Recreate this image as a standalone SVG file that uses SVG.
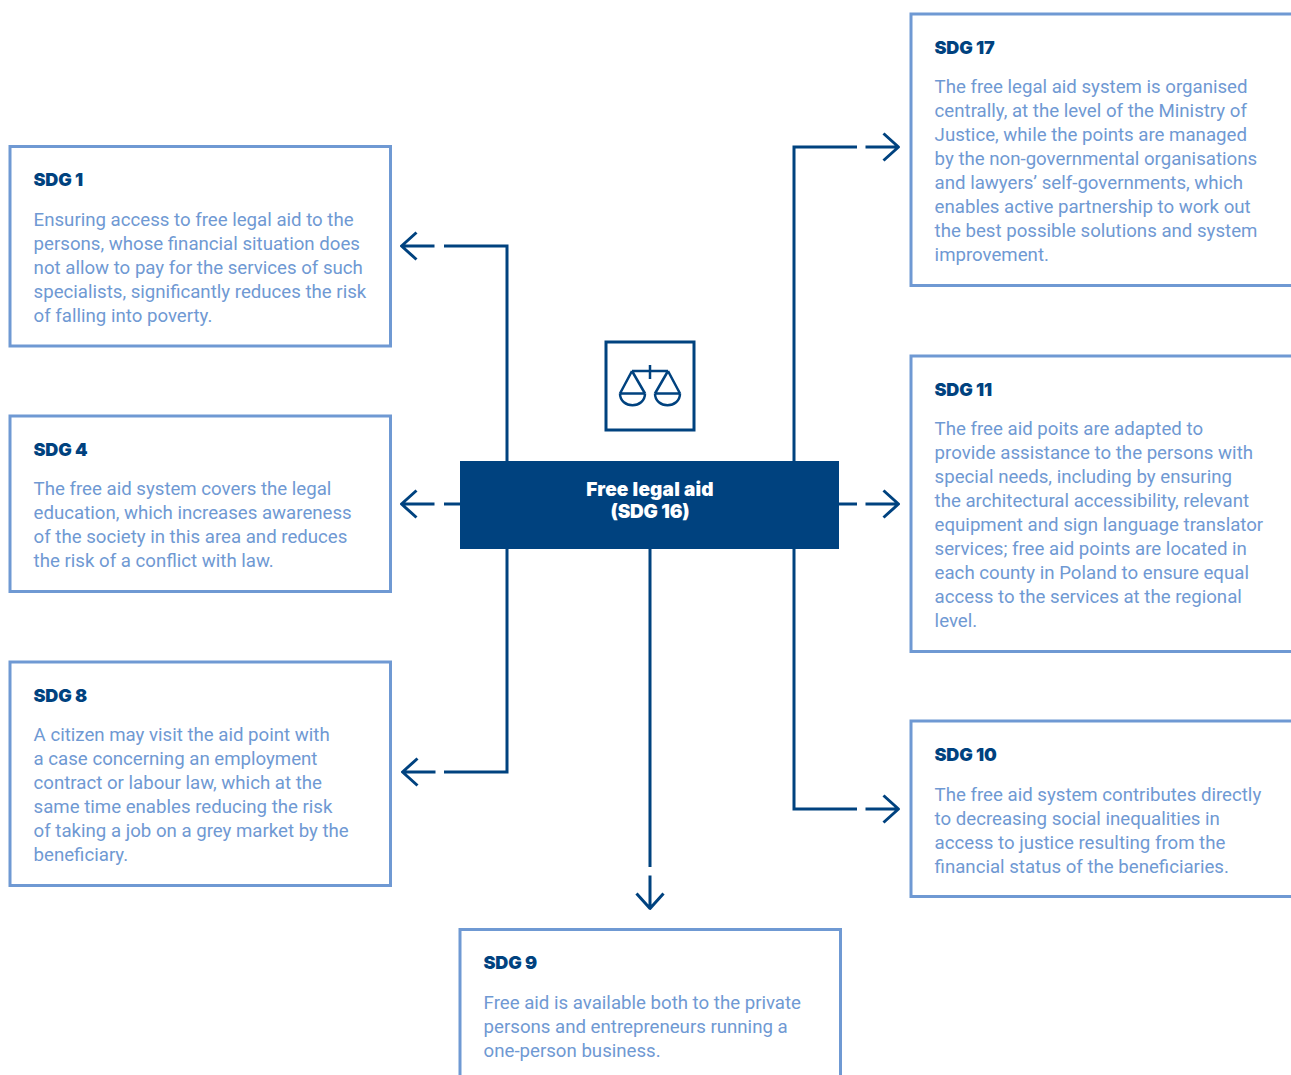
<svg xmlns="http://www.w3.org/2000/svg" width="1291" height="1075" viewBox="0 0 1291 1075">
<style>
.box{fill:#fff;stroke:#6f99d3;stroke-width:3}
.t{font-family:"Inter","Open Sans",sans-serif;font-weight:900;font-size:18px;fill:#00427f;letter-spacing:-.15px}
.b{font-family:"Roboto",sans-serif;font-size:18.65px;fill:#6f99d3}
.c{fill:none;stroke:#00427f;stroke-width:3}
.w{font-family:"Inter","Open Sans",sans-serif;font-weight:900;font-size:19px;fill:#fff;text-anchor:middle;letter-spacing:.2px}
</style>
<defs>
<path id="ah" class="c" d="M-33 0H0M-15 -13.500L0 0L-15 13.500" stroke-linejoin="round"/>
</defs>
<g id="connectors">
<path class="c" d="M507 462V246H444"/>
<use href="#ah" transform="translate(401.500 246) rotate(180)"/>
<path class="c" d="M460 504H444"/>
<use href="#ah" transform="translate(401.500 504) rotate(180)"/>
<path class="c" d="M507 548V772H444"/>
<use href="#ah" transform="translate(402.500 772) rotate(180)"/>
<path class="c" d="M794 462V147H857"/>
<use href="#ah" transform="translate(898.500 147)"/>
<path class="c" d="M838 504H857"/>
<use href="#ah" transform="translate(898.500 504)"/>
<path class="c" d="M794 548V809H857"/>
<use href="#ah" transform="translate(898.500 809)"/>
<path class="c" d="M650 548V867"/>
<use href="#ah" transform="translate(650 908.500) rotate(90)"/>
</g>
<g id="sdg1"><rect class="box" x="10" y="146.500" width="380.500" height="199.500"/>
<text class="t" x="33.500" y="186">SDG 1</text>
<text class="b"><tspan x="33.600" y="226">Ensuring access to free legal aid to the</tspan><tspan x="33.600" y="250">persons, whose financial situation does</tspan><tspan x="33.600" y="274">not allow to pay for the services of such</tspan><tspan x="33.600" y="298">specialists, significantly reduces the risk</tspan><tspan x="33.600" y="322">of falling into poverty.</tspan></text></g>
<g id="sdg4"><rect class="box" x="10" y="416" width="380.500" height="175.500"/>
<text class="t" x="33.500" y="456">SDG 4</text>
<text class="b"><tspan x="33.600" y="495">The free aid system covers the legal</tspan><tspan x="33.600" y="519">education, which increases awareness</tspan><tspan x="33.600" y="543">of the society in this area and reduces</tspan><tspan x="33.600" y="567">the risk of a conflict with law.</tspan></text></g>
<g id="sdg8"><rect class="box" x="10" y="662" width="380.500" height="223.500"/>
<text class="t" x="33.500" y="702">SDG 8</text>
<text class="b"><tspan x="33.600" y="741">A citizen may visit the aid point with</tspan><tspan x="33.600" y="765">a case concerning an employment</tspan><tspan x="33.600" y="789">contract or labour law, which at the</tspan><tspan x="33.600" y="813">same time enables reducing the risk</tspan><tspan x="33.600" y="837">of taking a job on a grey market by the</tspan><tspan x="33.600" y="861">beneficiary.</tspan></text></g>
<g id="sdg17"><rect class="box" x="911" y="14" width="384" height="271.500"/>
<text class="t" x="934.500" y="54">SDG 17</text>
<text class="b"><tspan x="934.600" y="93">The free legal aid system is organised</tspan><tspan x="934.600" y="117">centrally, at the level of the Ministry of</tspan><tspan x="934.600" y="141">Justice, while the points are managed</tspan><tspan x="934.600" y="165">by the non-governmental organisations</tspan><tspan x="934.600" y="189">and lawyers’ self-governments, which</tspan><tspan x="934.600" y="213">enables active partnership to work out</tspan><tspan x="934.600" y="237">the best possible solutions and system</tspan><tspan x="934.600" y="261">improvement.</tspan></text></g>
<g id="sdg11"><rect class="box" x="911" y="356" width="384" height="295.500"/>
<text class="t" x="934.500" y="396">SDG 11</text>
<text class="b"><tspan x="934.600" y="435">The free aid poits are adapted to</tspan><tspan x="934.600" y="459">provide assistance to the persons with</tspan><tspan x="934.600" y="483">special needs, including by ensuring</tspan><tspan x="934.600" y="507">the architectural accessibility, relevant</tspan><tspan x="934.600" y="531">equipment and sign language translator</tspan><tspan x="934.600" y="555">services; free aid points are located in</tspan><tspan x="934.600" y="579">each county in Poland to ensure equal</tspan><tspan x="934.600" y="603">access to the services at the regional</tspan><tspan x="934.600" y="627">level.</tspan></text></g>
<g id="sdg10"><rect class="box" x="911" y="721" width="384" height="175.500"/>
<text class="t" x="934.500" y="761">SDG 10</text>
<text class="b"><tspan x="934.600" y="801">The free aid system contributes directly</tspan><tspan x="934.600" y="825">to decreasing social inequalities in</tspan><tspan x="934.600" y="849">access to justice resulting from the</tspan><tspan x="934.600" y="873">financial status of the beneficiaries.</tspan></text></g>
<g id="sdg9"><rect class="box" x="460" y="929.500" width="380.500" height="150"/>
<text class="t" x="483.500" y="969">SDG 9</text>
<text class="b"><tspan x="483.600" y="1009">Free aid is available both to the private</tspan><tspan x="483.600" y="1033">persons and entrepreneurs running a</tspan><tspan x="483.600" y="1057">one-person business.</tspan></text></g>
<g id="icon"><rect x="606" y="342" width="88" height="88" fill="#fff" stroke="#00427f" stroke-width="3"/>
<path d="M650 365V379M632 371H668M632 371L620 393.500M632 371L645 393.500M668 371L655 393.500M668 371L680 393.500M620 393.500H645M620 393.500C620 409 645 409 645 393.500M655 393.500H680M655 393.500C655 409 680 409 680 393.500" fill="none" stroke="#00427f" stroke-width="2.500" stroke-linejoin="round"/></g>
<g id="center"><rect x="460" y="461" width="379" height="88" fill="#00427f"/>
<text class="w" x="650" y="496">Free legal aid</text><text class="w" x="650" y="518" style="letter-spacing:-.2px">(SDG 16)</text></g>
</svg>
